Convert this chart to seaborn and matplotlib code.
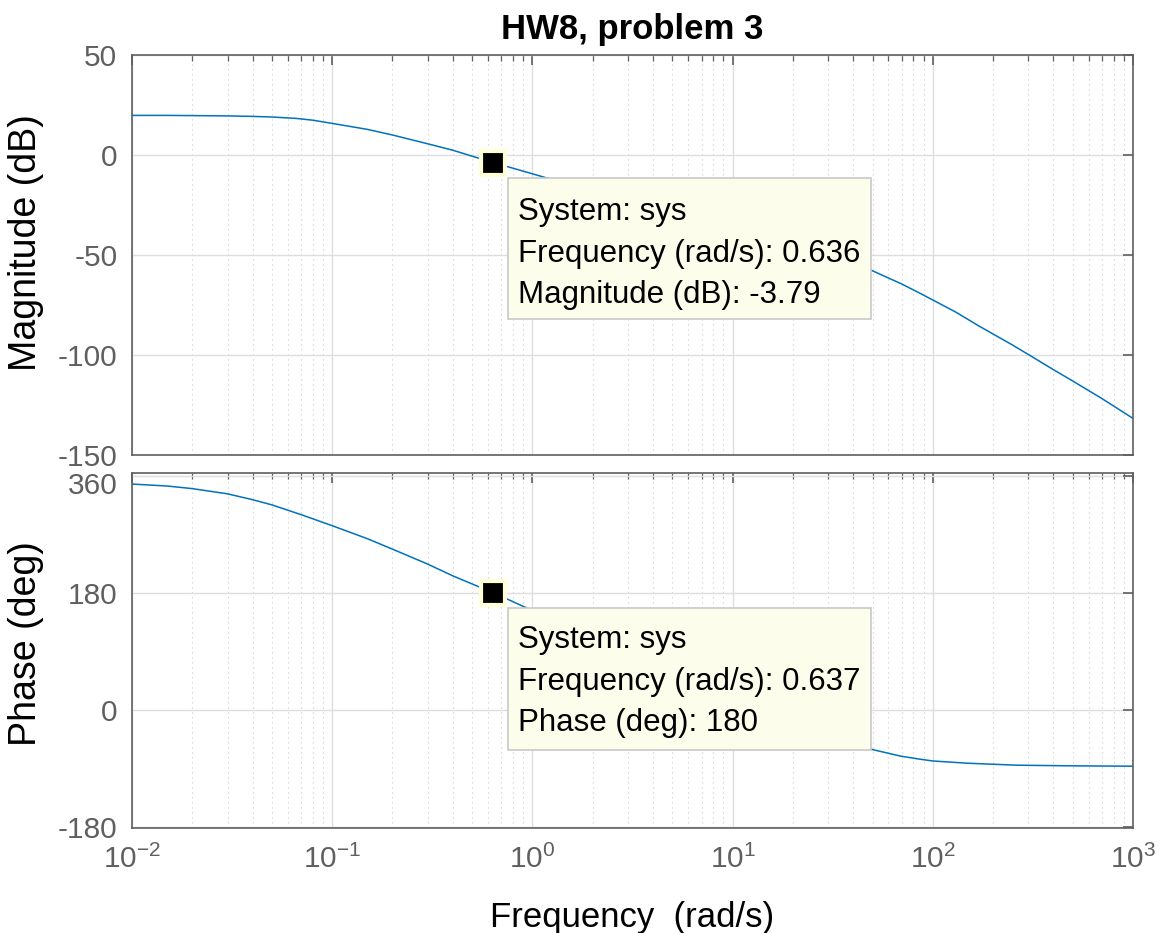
import numpy as np
import matplotlib
matplotlib.use("Agg")
import matplotlib.pyplot as plt
from matplotlib.patches import Rectangle
from matplotlib.ticker import LogLocator, NullFormatter, FixedLocator
from matplotlib.transforms import ScaledTranslation
import seaborn as sns

# valeurs (Bode)
mag_freq = [0.01, 0.015, 0.02, 0.03, 0.04, 0.05, 0.066, 0.08, 0.1, 0.15, 0.2, 0.3, 0.4,
            0.5, 0.636, 0.8, 1.0, 1.21, 1.5, 2, 3, 5, 10, 20, 35, 49, 60, 70, 85, 100,
            130, 170, 200, 250, 303, 400, 500, 700, 1000]
mag_db = [19.8, 19.8, 19.7, 19.55, 19.3, 19.0, 18.3, 17.4, 15.8, 12.8, 10.0, 5.6, 2.4,
          -0.6, -3.79, -6.6, -9.4, -11.8, -14.3, -17.5, -22.0, -28.0, -36.5, -45.0,
          -52.0, -57.5, -61.5, -64.5, -68.8, -72.5, -78.5, -85.5, -89.5, -95.0, -100.0,
          -107.3, -113.0, -121.8, -131.7]

phase_freq = [0.01, 0.015, 0.02, 0.03, 0.04, 0.05, 0.07, 0.1, 0.15, 0.2, 0.3, 0.4, 0.5,
              0.637, 0.74, 0.9, 1.5, 3, 6, 12, 22.7, 30, 40, 50, 69, 85, 100, 150, 265,
              500, 1000]
phase_deg = [347, 344, 340, 332, 323, 315, 300, 283, 263, 247, 224, 206, 193.5,
             180, 171, 159, 128, 87, 47, 10, -23, -37, -52, -61, -71, -75.5, -78.5,
             -82, -85, -86, -86.5]

# data tips
tip_mag = (0.636, -3.79)
tip_phase = (0.637, 180)
tip_mag_text = ["System: sys", "Frequency (rad/s): 0.636", "Magnitude (dB): -3.79"]
tip_phase_text = ["System: sys", "Frequency (rad/s): 0.637", "Phase (deg): 180"]

mag_ticks = [-150, -100, -50, 0, 50]
phase_ticks = [-180, 0, 180, 360]

sns.set_style("white")
plt.rcParams['font.family'] = ['Liberation Sans', 'DejaVu Sans']
plt.rcParams['mathtext.fontset'] = 'custom'
plt.rcParams['mathtext.rm'] = 'Liberation Sans'
plt.rcParams['mathtext.it'] = 'Liberation Sans'
plt.rcParams['axes.unicode_minus'] = False

W, H = 1162, 933
fig = plt.figure(figsize=(W / 100, H / 100), dpi=100)
fig.patch.set_facecolor('white')

def px_box(x0, y0, x1, y1):
    return [x0 / W, 1 - y1 / H, (x1 - x0) / W, (y1 - y0) / H]

ax1 = fig.add_axes(px_box(132, 55, 1133, 455))
ax2 = fig.add_axes(px_box(132, 473, 1133, 828))

line_col = '#0072BD'
axis_col = '#5f5f5f'

sns.lineplot(x=mag_freq, y=mag_db, ax=ax1, color=line_col, linewidth=1.1, sort=False)
sns.lineplot(x=phase_freq, y=phase_deg, ax=ax2, color=line_col, linewidth=1.1, sort=False)

for ax in (ax1, ax2):
    ax.set_xscale('log')
    ax.set_xlim(0.01, 1000)
    ax.xaxis.set_major_locator(LogLocator(base=10, numticks=20))
    ax.xaxis.set_minor_locator(LogLocator(base=10, subs=np.arange(2, 10) * 1.0, numticks=100))
    ax.xaxis.set_minor_formatter(NullFormatter())
    ax.grid(which='major', color='#dedede', linewidth=1.0, linestyle='-')
    ax.grid(which='minor', axis='x', color='#c8c8c8', linewidth=0.8, linestyle=(0, (1, 3.5)))
    ax.set_axisbelow(True)
    for s in ax.spines.values():
        s.set_color(axis_col)
        s.set_linewidth(1.2)
    ax.tick_params(which='both', direction='in', top=True, right=True,
                   color=axis_col, labelcolor=axis_col, labelsize=21.5)
    ax.tick_params(which='major', length=7, width=1.2)
    ax.tick_params(which='minor', length=4, width=0.9)
    ax.tick_params(axis='y', pad=10.5)
    ax.set_facecolor('white')

ax1.set_ylim(-150, 50)
ax1.yaxis.set_major_locator(FixedLocator(mag_ticks))
ax1.tick_params(axis='x', labelbottom=False)
ax1.set_xlabel('')

ax2.set_ylim(-181.5, 364)
ax2.yaxis.set_major_locator(FixedLocator(phase_ticks))
ax2.tick_params(axis='x', pad=12)

# the "360" label sits a little below its tick, as in the reference
top_tick = ax2.yaxis.get_major_ticks()[-1].label1
top_tick.set_transform(top_tick.get_transform() + ScaledTranslation(0, -5 / 72, fig.dpi_scale_trans))

ax1.set_ylabel('Magnitude (dB)', fontsize=27, color='black')
ax2.set_ylabel('Phase (deg)', fontsize=27, color='black')
ax1.yaxis.set_label_coords(-0.088, 0.53)
ax2.yaxis.set_label_coords(-0.088, 0.52)
ax2.set_xlabel('Frequency  (rad/s)', fontsize=25, color='black')
ax2.xaxis.set_label_coords(0.5, -0.205)
ax1.set_title('HW8, problem 3', fontsize=25, fontweight='bold', color='black', pad=11.5)

# markers for data tips
sns.scatterplot(x=[tip_mag[0]], y=[tip_mag[1]], ax=ax1, marker='s', s=300,
                color='black', edgecolor='#ffffd8', linewidth=3, zorder=5)
sns.scatterplot(x=[tip_phase[0]], y=[tip_phase[1]], ax=ax2, marker='s', s=300,
                color='black', edgecolor='#ffffd8', linewidth=3, zorder=5)

def data_tip(x0, y0, x1, y1, lines, line_y):
    rect = Rectangle((x0 / W, 1 - y1 / H), (x1 - x0) / W, (y1 - y0) / H,
                     transform=fig.transFigure, facecolor='#fcfdeb',
                     edgecolor='#c8c8c8', linewidth=1.2, zorder=10)
    fig.add_artist(rect)
    for t, yy in zip(lines, line_y):
        fig.text(518 / W, 1 - yy / H, t, fontsize=22.5, color='black',
                 va='center', ha='left', zorder=11)

data_tip(508, 178, 871, 319, tip_mag_text, [212, 254, 295])
data_tip(508, 608, 871, 750, tip_phase_text, [640, 682, 723])

fig.savefig('out.png', dpi=100)
